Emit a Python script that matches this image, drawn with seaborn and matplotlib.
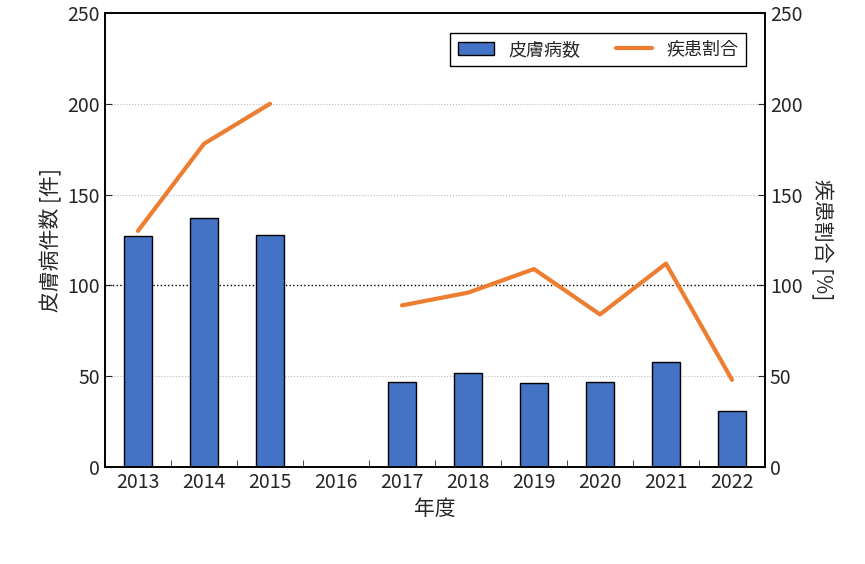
import numpy as np, pandas as pd, matplotlib
matplotlib.use("Agg")
import matplotlib.pyplot as plt
import seaborn as sns

years = ["2013","2014","2015","2016","2017","2018","2019","2020","2021","2022"]
cases = [127,137,128,np.nan,47,52,46,47,58,31]
ratio = [130,178,200,np.nan,89,96,109,84,112,48]

sns.set_style("ticks")
plt.rcParams['font.family'] = ['Noto Sans CJK JP','DejaVu Sans']
fig = plt.figure(figsize=(8.65,5.64), dpi=100)
ax = fig.add_axes([105/865, 1-467/564, 660/865, 454/564])
df = pd.DataFrame({"year":years,"cases":cases,"ratio":ratio})
sns.barplot(data=df, x="year", y="cases", color="#4472C4", edgecolor="black", linewidth=1, width=0.42, saturation=1, ax=ax, label="皮膚病数")
ax2 = ax.twinx()
ax2.plot(np.arange(len(years)), df["ratio"].values, color="#ED7D31", lw=3, label="疾患割合")
for a in (ax, ax2):
    a.set_ylim(0,250); a.set_yticks(range(0,251,50))
    a.tick_params(direction="in", labelsize=14, length=5)
ax.set_xlim(-0.5, 9.5)
ax.set_xticks(np.arange(-0.5,10,1), minor=True)
ax.tick_params(axis="x", which="major", length=0)
ax.tick_params(axis="x", which="minor", direction="in", length=5)
for y in (50,150,200):
    ax.axhline(y, color="#bbbbbb", ls=":", lw=0.8, zorder=0)
ax.axhline(100, color="black", ls=":", lw=1, zorder=0)
ax.set_xlabel("年度", fontsize=15)
ax.set_ylabel("皮膚病件数 [件]", fontsize=15)
ax2.set_ylabel("疾患割合 [%]", fontsize=15, rotation=270, labelpad=22)
for a in (ax, ax2):
    for s in a.spines.values(): s.set_linewidth(1.2); s.set_color("black")
if ax.legend_: ax.legend_.remove()
h1,l1 = ax.get_legend_handles_labels(); h2,l2 = ax2.get_legend_handles_labels()
ax2.legend(h1+h2, l1+l2, loc="upper right", bbox_to_anchor=(0.985,0.975), ncol=2, fontsize=13, frameon=True, fancybox=False, edgecolor="black", framealpha=1)
fig.savefig("out.png", dpi=100)
